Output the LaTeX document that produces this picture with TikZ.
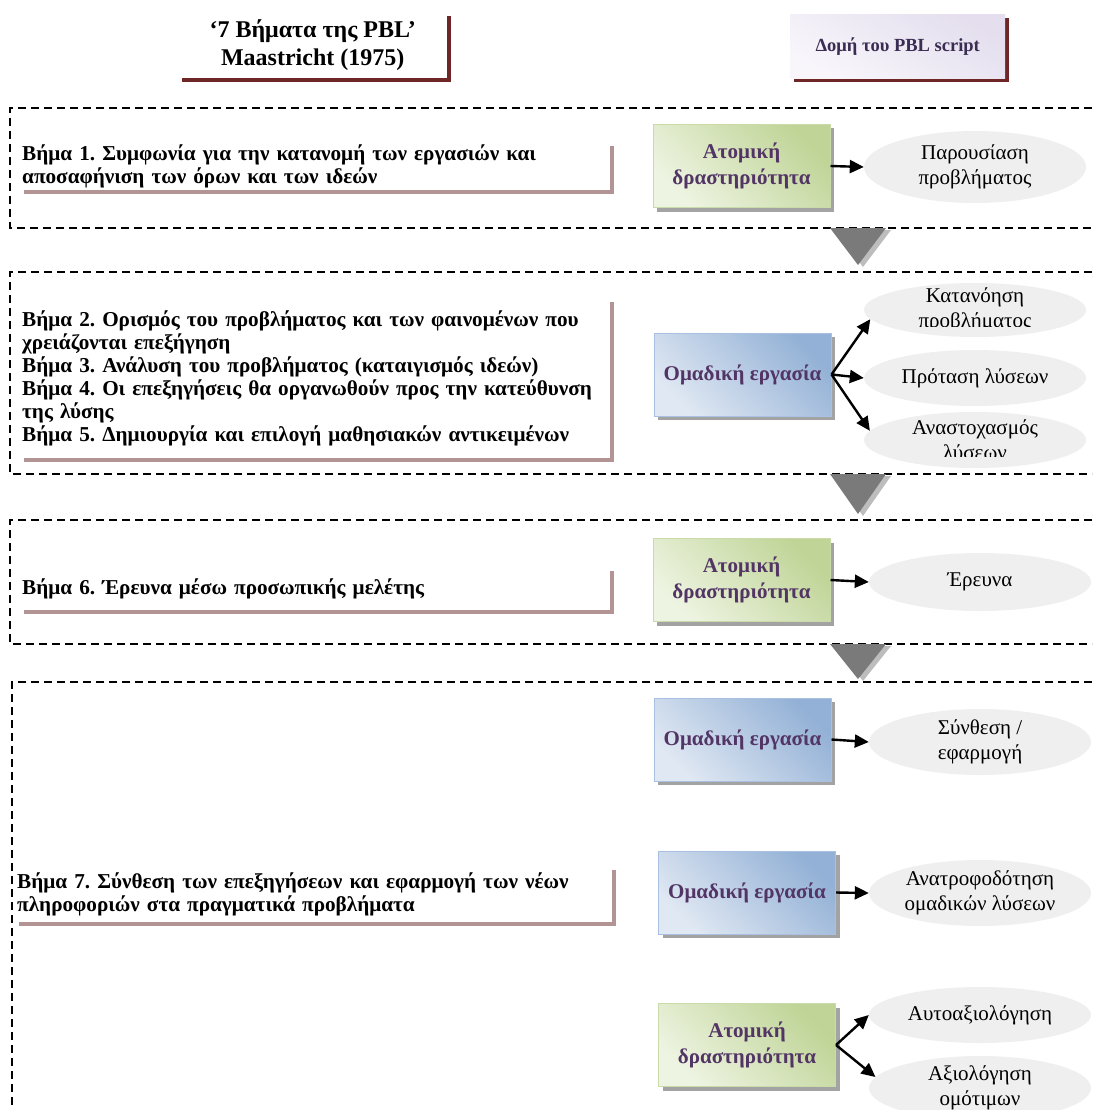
\documentclass[tikz,border=0pt]{standalone}
\usepackage{fontspec}
\setmainfont{Liberation Serif}
\usetikzlibrary{arrows.meta,shapes.geometric,shadows}
\frenchspacing

\definecolor{stepshadow}{HTML}{B39494}
\definecolor{headshadow}{HTML}{6E2626}
\definecolor{boxshadow}{HTML}{A3A3A3}
\definecolor{greendark}{HTML}{BFD496}
\definecolor{greenlight}{HTML}{EEF4E2}
\definecolor{greenedge}{HTML}{C9DBA8}
\definecolor{bluedark}{HTML}{93B1D6}
\definecolor{bluelight}{HTML}{E0E8F3}
\definecolor{blueedge}{HTML}{A9C0E0}
\definecolor{boxtext}{HTML}{523565}
\definecolor{headtext}{HTML}{3A2C52}
\definecolor{lavdark}{HTML}{E4DEEE}
\definecolor{lavlight}{HTML}{F8F6FB}
\definecolor{ellfill}{HTML}{EFEFEF}
\definecolor{trifill}{HTML}{7A7A7A}
\definecolor{trishade}{HTML}{BDBDBD}

\begin{document}
\begin{tikzpicture}[x=1pt,y=-1pt,
  region/.style={line width=1.4pt,dash pattern=on 8pt off 5pt},
  stepbox/.style={fill=white,anchor=north west,align=left,inner xsep=2pt,inner ysep=0pt,
    font=\fontsize{21.2}{23}\selectfont\bfseries,
    drop shadow={shadow xshift=4pt,shadow yshift=-4pt,fill=stepshadow,opacity=1}},
  headbox/.style={anchor=north west,align=center,inner sep=0pt,
    font=\fontsize{24}{28}\selectfont\bfseries,
    drop shadow={shadow xshift=4pt,shadow yshift=-4pt,fill=headshadow,opacity=1}},
  actbox/.style={minimum width=177pt,minimum height=83pt,inner sep=0pt,align=center,
    text=boxtext,font=\fontsize{21}{26}\selectfont\bfseries,line width=1pt,
    drop shadow={shadow xshift=4pt,shadow yshift=-4pt,fill=boxshadow,opacity=1}},
  indiv/.style={actbox,draw=greenedge,top color=greendark,bottom color=greenlight,shading angle=-45},
  group/.style={actbox,draw=blueedge,top color=bluedark,bottom color=bluelight,shading angle=-45},
  ell/.style={ellipse,fill=ellfill,minimum width=222pt,inner sep=0pt,align=center,
    font=\fontsize{21}{25}\selectfont},
  elltext/.style={align=center,inner sep=0pt,font=\fontsize{21}{25}\selectfont},
  link/.style={line width=2.4pt,-{Triangle[length=14pt,width=13pt]}},
  tri/.style={fill=trifill},
  trishadow/.style={fill=trishade}
]
\useasboundingbox (0,0) rectangle (1092,1110);
\fill[white] (0,0) rectangle (1092,1110);

% column headings
\node[headbox,fill=white,minimum width=269pt,minimum height=66pt] (h1) at (178,12)
  {‘7 Βήματα της PBL’\\Maastricht (1975)};
\node[headbox,top color=lavdark,bottom color=lavlight,shading angle=-30,text=headtext,
  font=\fontsize{18.5}{24}\selectfont\bfseries,minimum width=215pt,minimum height=64pt] (h2) at (790,14)
  {Δομή του PBL script};

% dashed phase frames
\draw[region] (1092,108) -- (10,108) -- (10,228) -- (1092,228);
\draw[region] (1092,272) -- (10,272) -- (10,474) -- (1092,474);
\draw[region] (1092,520) -- (10,520) -- (10,644) -- (1092,644);
\draw[region] (1092,682) -- (12,682) -- (12,1110);

% phase transition triangles
\fill[trishadow] (835,230) -- (891,230) -- (863,267) -- cycle;
\fill[tri] (830,228) -- (886,228) -- (858,265) -- cycle;
\fill[trishadow] (835,476) -- (891,476) -- (863,516) -- cycle;
\fill[tri] (830,474) -- (886,474) -- (858,514) -- cycle;
\fill[trishadow] (835,646) -- (891,646) -- (863,681) -- cycle;
\fill[tri] (830,644) -- (886,644) -- (858,679) -- cycle;

% the seven steps
\node[stepbox,text width=586pt,minimum height=48pt] (s1) at (20,142)
  {Βήμα 1. Συμφωνία για την κατανομή των εργασιών και\\αποσαφήνιση των όρων και των ιδεών};
\node[stepbox,text width=586pt,minimum height=160pt] (s2) at (20,298)
  {Βήμα 2. Ορισμός του προβλήματος και των φαινομένων που\\χρειάζονται επεξήγηση\\
   Βήμα 3. Ανάλυση του προβλήματος (καταιγισμός ιδεών)\\
   Βήμα 4. Οι επεξηγήσεις θα οργανωθούν προς την κατεύθυνση\\της λύσης\\
   Βήμα 5. Δημιουργία και επιλογή μαθησιακών αντικειμένων};
\node[stepbox,text width=586pt,minimum height=43pt] (s6) at (20,567)
  {Βήμα 6. Έρευνα μέσω προσωπικής μελέτης};
\node[stepbox,text width=593pt,minimum height=56pt] (s7) at (15,866)
  {Βήμα 7. Σύνθεση των επεξηγήσεων και εφαρμογή των νέων\\πληροφοριών στα πραγματικά προβλήματα};

% PBL script activities
\node[indiv] (a1) at (741.5,166) {Ατομική\\δραστηριότητα};
\node[group] (o1) at (742.5,374.5) {Ομαδική εργασία};
\node[indiv] (a2) at (741.5,580) {Ατομική\\δραστηριότητα};
\node[group] (o2) at (742.5,739.5) {Ομαδική εργασία};
\node[group] (o3) at (747,892.5) {Ομαδική εργασία};
\node[indiv] (a3) at (747,1045) {Ατομική\\δραστηριότητα};

% outcomes
\node[ell,minimum height=72pt] (e1) at (975,167) {Παρουσίαση\\προβλήματος};
\node[ell,minimum height=54pt] (k) at (975,310) {};
\begin{scope}
  \clip (860,280) rectangle (1092,326);
  \node[elltext] (kt) at (975,310) {Κατανόηση\\προβλήματος};
\end{scope}
\node[ell,minimum height=56pt] (p) at (975,378) {Πρόταση λύσεων};
\node[ell,minimum height=56pt] (n) at (975,440) {};
\begin{scope}
  \clip (860,410) rectangle (1092,456);
  \node[elltext] (nt) at (975,440) {Αναστοχασμός\\λύσεων};
\end{scope}
\node[ell,minimum height=58pt] (er) at (980,582) {Έρευνα};
\node[ell,minimum height=66pt] (syn) at (980,742) {Σύνθεση /\\εφαρμογή};
\node[ell,minimum height=66pt] (ana) at (980,893) {Ανατροφοδότηση\\ομαδικών λύσεων};
\node[ell,minimum height=56pt] (aut) at (980,1015) {Αυτοαξιολόγηση};
\node[ell,minimum height=64pt] (axi) at (980,1088) {Αξιολόγηση\\ομότιμων};

% connectors
\draw[link] (a1.east) -- (e1.west);
\draw[link] (o1.east) -- (k.185);
\draw[link] (o1.east) -- (p.west);
\draw[link] (o1.east) -- (n.175);
\draw[link] (a2.east) -- (er.west);
\draw[link] (o2.east) -- (syn.west);
\draw[link] (o3.east) -- (ana.west);
\draw[link] (a3.east) -- (aut.west);
\draw[link] (a3.east) -- (axi.174);
\end{tikzpicture}
\end{document}
